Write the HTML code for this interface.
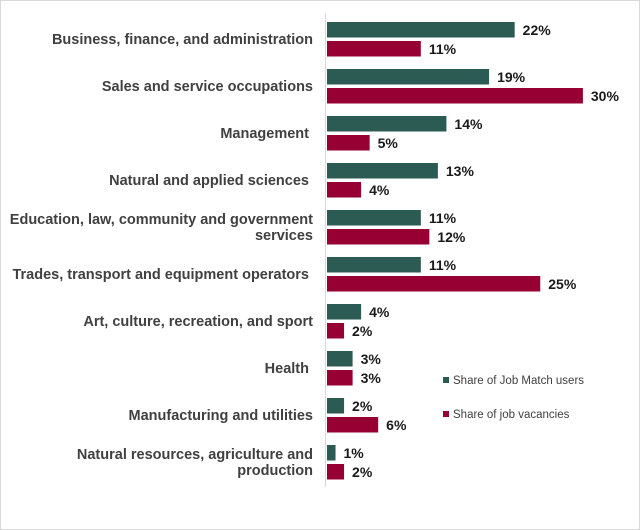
<!DOCTYPE html>
<html><head><meta charset="utf-8"><style>
html,body{margin:0;padding:0;background:#fff;}
#wrap{position:relative;width:638px;height:528px;border:1px solid #d9d9d9;overflow:hidden;}
svg text{font-family:"Liberation Sans",Arial,sans-serif;}
</style></head><body>
<div id="wrap">
<svg id="chart" width="638" height="528"></svg>
</div>
<script>
const categories=[["Business, finance, and administration"],["Sales and service occupations"],["Management\u00a0"],["Natural and applied sciences\u00a0"],["Education, law, community and government","services"],["Trades, transport and equipment operators\u00a0"],["Art, culture, recreation, and sport"],["Health\u00a0"],["Manufacturing and utilities"],["Natural resources, agriculture and","production"]];
const jobMatchUsers=[22,19,14,13,11,11,4,3,2,1];
const jobVacancies=[11,30,5,4,12,25,2,3,6,2];
const seriesNames=["Share of Job Match users","Share of job vacancies"];
const colors=["#2b5b53","#960032"];
const NS="http://www.w3.org/2000/svg";
const svg=document.getElementById('chart');
const x0=325, pxPer=8.53;
function xs(v){return x0+v*pxPer;}
function ys(i){return 20+i*47;}
function mk(t,a){const e=document.createElementNS(NS,t);for(const k in a)e.setAttribute(k,a[k]);svg.appendChild(e);return e;}
const axis=mk('line',{x1:x0-0.5,x2:x0-0.5,y1:12,y2:486,stroke:'#d9d9d9','stroke-width':1});


categories.forEach((lines,i)=>{
  const yt=ys(i);
  const c=yt+18;
  const t=mk('text',{x:312,'text-anchor':'end','font-size':14.5,'font-weight':'bold',fill:'#404040'});
  
  
  const startY=c+5-(lines.length-1)*8;
  lines.forEach((l,j)=>{const s=document.createElementNS(NS,'tspan');s.setAttribute('x',312);s.setAttribute('y',startY+j*16);s.textContent=l;t.appendChild(s);});
  [jobMatchUsers[i],jobVacancies[i]].forEach((v,k)=>{
    const by=yt+1+k*19;
    const r=mk('rect',{x:x0+1,y:by,width:xs(v)-x0,height:15.5,fill:colors[k]});
    
    
    const lt=mk('text',{x:xs(v)+9,y:by+13,'font-size':14,'font-weight':'bold',fill:'#1a1a1a'});
    lt.textContent=v+'%';
    
    
  });
});
seriesNames.forEach((n,k)=>{
  const ly=376+k*34;
  const sq=mk('rect',{x:442,y:ly,width:6,height:6,fill:colors[k]});
  
  
  const lt=mk('text',{x:452,y:ly+7,'font-size':11.5,fill:'#404040'});
  lt.textContent=n;
  
  
});
</script>
</body></html>
